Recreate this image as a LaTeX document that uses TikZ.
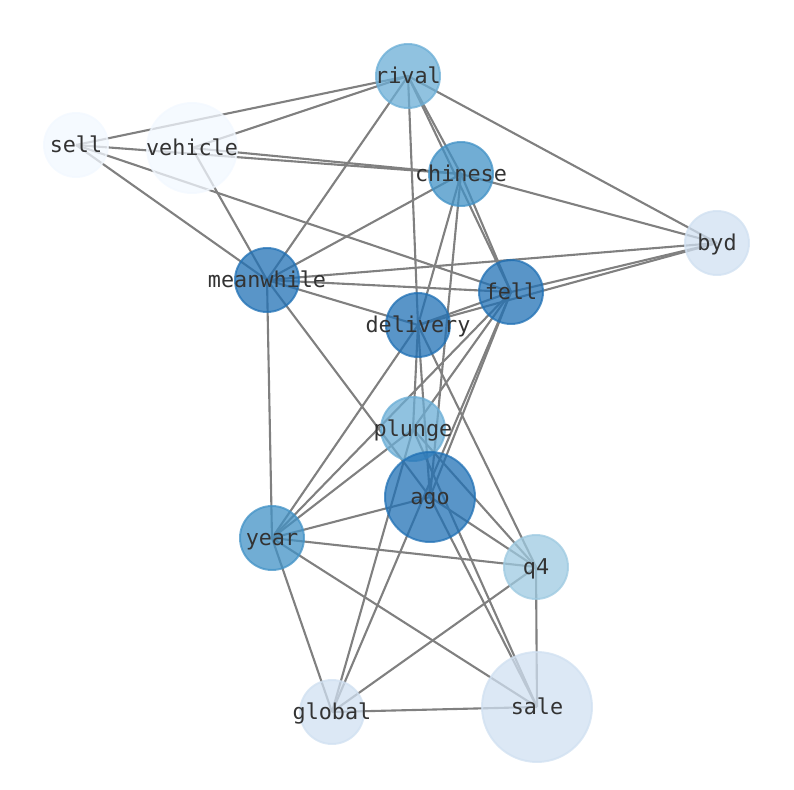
\documentclass[tikz,border=0pt]{standalone}
\usepackage{fontspec}
\setmonofont{DejaVu Sans Mono}
\usetikzlibrary{backgrounds}

\definecolor{azulA}{HTML}{2171B5}
\definecolor{azulB}{HTML}{4292C6}
\definecolor{azulC}{HTML}{6BAED6}
\definecolor{azulD}{HTML}{9ECAE1}
\definecolor{azulE}{HTML}{D0E0F1}
\definecolor{azulF}{HTML}{F2F8FF}
\definecolor{texto}{HTML}{333333}

\tikzset{
    nodo/.style={circle, inner sep=0pt, minimum size=16mm, line width=1.4pt,
        fill opacity=0.75, draw opacity=0.75},
    grande/.style={minimum size=22.5mm},
    enorme/.style={minimum size=27.5mm},
    every label/.style={text=texto, inner sep=0pt, text height=13.5pt, text depth=3.5pt,
        font=\ttfamily\fontsize{15.5}{16}\selectfont},
    arista/.style={draw=gray, line width=1.5pt}
}

\begin{document}
\begin{tikzpicture}[x=0.25mm, y=-0.25mm]

        % Marco
        \useasboundingbox (0,0) rectangle (794,790);

        % Nodos
        \node[nodo, fill=azulC, draw=azulC, label=center:rival] (rival) at (408,76) {};
        \node[nodo, fill=azulF, draw=azulF, label=center:sell] (sell) at (76,145) {};
        \node[nodo, grande, fill=azulF, draw=azulF, label=center:vehicle] (vehicle) at (192,148) {};
        \node[nodo, fill=azulB, draw=azulB, label=center:chinese] (chinese) at (461,174) {};
        \node[nodo, fill=azulE, draw=azulE, label=center:byd] (byd) at (717,243) {};
        \node[nodo, fill=azulA, draw=azulA, label=center:meanwhile] (meanwhile) at (267,280) {};
        \node[nodo, fill=azulA, draw=azulA, label=center:fell] (fell) at (511,292) {};
        \node[nodo, fill=azulA, draw=azulA, label=center:delivery] (delivery) at (418,325) {};
        \node[nodo, fill=azulC, draw=azulC, label=center:plunge] (plunge) at (413,429) {};
        \node[nodo, grande, fill=azulA, draw=azulA, label=center:ago] (ago) at (430,497) {};
        \node[nodo, fill=azulB, draw=azulB, label=center:year] (year) at (272,538) {};
        \node[nodo, fill=azulD, draw=azulD, label=center:q4] (q4) at (536,567) {};
        \node[nodo, fill=azulE, draw=azulE, label=center:global] (global) at (332,712) {};
        \node[nodo, enorme, fill=azulE, draw=azulE, label=center:sale] (sale) at (537,707) {};

        % Aristas
        \begin{scope}[on background layer]
        \foreach \a/\b in {sell/rival, sell/chinese, sell/fell, sell/meanwhile,
                vehicle/rival, vehicle/chinese, vehicle/meanwhile,
                rival/byd, rival/meanwhile, rival/delivery, rival/chinese, rival/fell,
                chinese/byd, chinese/meanwhile, chinese/fell, chinese/delivery, chinese/ago,
                byd/meanwhile, byd/fell, byd/delivery,
                meanwhile/fell, meanwhile/delivery, meanwhile/year, meanwhile/ago,
                fell/delivery, fell/year, fell/plunge, fell/global, fell/ago,
                delivery/year, delivery/q4, delivery/plunge, delivery/ago,
                plunge/year, plunge/q4, plunge/sale, plunge/global,
                ago/year, ago/q4, ago/sale,
                year/q4, year/global, year/sale,
                q4/global, q4/sale, global/sale}
            \draw[arista] (\a.center) -- (\b.center);
        \end{scope}

\end{tikzpicture}
\end{document}
